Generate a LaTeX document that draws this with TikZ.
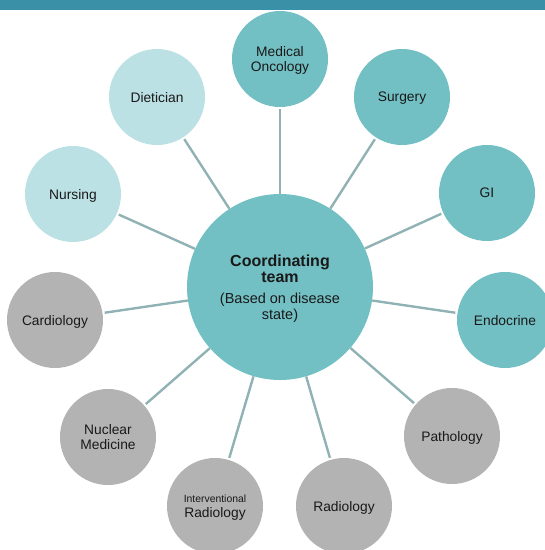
\documentclass[tikz,border=0pt]{standalone}
\usepackage{fontspec}
\setmainfont{Liberation Sans}

\definecolor{barblue}{HTML}{3A91A7}
\definecolor{teamteal}{HTML}{73C0C4}
\definecolor{careteal}{HTML}{BCE1E4}
\definecolor{diaggray}{HTML}{B3B3B3}
\definecolor{linkgray}{HTML}{91B2B4}

\tikzset{
  unit/.style={circle, draw=none, inner sep=0pt, minimum size=96pt, align=center,
    text depth=0pt, text=black!90, font=\fontsize{13.8}{15.5}\selectfont},
  onco/.style={unit, fill=teamteal},
  care/.style={unit, fill=careteal},
  diag/.style={unit, fill=diaggray},
  link/.style={draw=linkgray, line width=2.4pt, shorten >=2pt}
}

\begin{document}
\begin{tikzpicture}[x=1pt, y=-1pt]
  \useasboundingbox (0, 0) rectangle (545, 550);
  \clip (0, 0) rectangle (545, 550);

  % header bar
  \fill[barblue] (0, 0) rectangle (545, 10);

  % hub
  \node[unit, fill=teamteal, minimum size=186pt] (team) at (280, 287)
    {\fontsize{16}{17}\selectfont\bfseries Coordinating\\
     \fontsize{16}{17}\selectfont\bfseries team\\[6pt]
     \fontsize{14.5}{16.5}\selectfont (Based on disease\\
     \fontsize{14.5}{16.5}\selectfont state)};

  % specialties
  \node[onco] (medonc) at (280, 59) {Medical\\Oncology};
  \node[onco] (surgery) at (402, 97) {Surgery};
  \node[onco] (gi) at (487, 193) {GI};
  \node[onco] (endo) at (505, 320) {Endocrine};
  \node[diag] (patho) at (452, 436) {Pathology};
  \node[diag] (radio) at (344, 506) {Radiology};
  \node[diag] (ir) at (215, 506)
    {{\fontsize{10.4}{12}\selectfont Interventional}\\Radiology};
  \node[diag] (nucmed) at (108, 437) {Nuclear\\Medicine};
  \node[diag] (cardio) at (55, 320) {Cardiology};
  \node[care] (nursing) at (73, 194) {Nursing};
  \node[care] (diet) at (157, 97) {Dietician};

  % spokes
  \draw[link] (team) -- (medonc);
  \draw[link] (team) -- (surgery);
  \draw[link] (team) -- (gi);
  \draw[link] (team) -- (endo);
  \draw[link] (team) -- (patho);
  \draw[link] (team) -- (radio);
  \draw[link] (team) -- (ir);
  \draw[link] (team) -- (nucmed);
  \draw[link] (team) -- (cardio);
  \draw[link] (team) -- (nursing);
  \draw[link] (team) -- (diet);
\end{tikzpicture}
\end{document}
